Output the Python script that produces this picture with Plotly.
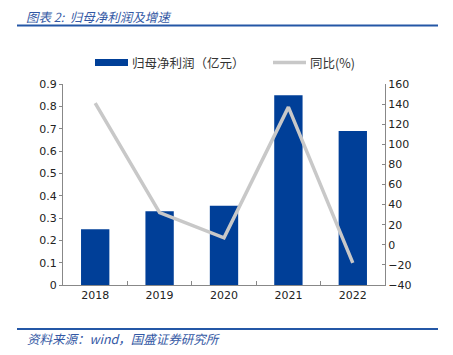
import plotly.graph_objects as go

years = ["2018", "2019", "2020", "2021", "2022"]
profit = [0.25, 0.33, 0.355, 0.85, 0.69]
yoy = [141, 32, 7, 137, -18]

left_ticks = [0, 0.1, 0.2, 0.3, 0.4, 0.5, 0.6, 0.7, 0.8, 0.9]
left_labels = ["0", "0.1", "0.2", "0.3", "0.4", "0.5", "0.6", "0.7", "0.8", "0.9"]
right_ticks = [-40, -20, 0, 20, 40, 60, 80, 100, 120, 140, 160]
bar_name = "归母净利润（亿元）"
line_name = "同比(%)"

# page offset of the figure (browser default body margin)
OFF = 8
W, H = 453 - OFF, 355 - OFF
L, R, T, B = 63 - OFF, 385 - OFF, 84 - OFF, 285 - OFF
PW, PH = R - L, B - T
BLUE = "#003F98"
GRAY = "#C8C8C8"
TITLE_BLUE = "#3358A4"
AXIS = "#888888"
FONT = "DejaVu Sans, Noto Sans CJK SC, sans-serif"
CJK = "Noto Sans CJK SC, sans-serif"


def px(x):
    return (x - OFF - L) / PW


def py(y):
    return (B - (y - OFF)) / PH


fig = go.Figure()
fig.add_trace(go.Bar(x=years, y=profit, name=bar_name,
                     marker=dict(color=BLUE, line=dict(width=0)), width=0.44,
                     yaxis="y"))
fig.add_trace(go.Scatter(x=years, y=yoy, name=line_name, mode="lines",
                         line=dict(color=GRAY, width=3.5), yaxis="y2"))

fig.update_layout(
    width=W, height=H,
    margin=dict(l=L, r=W - R, t=T, b=H - B, autoexpand=False),
    paper_bgcolor="white", plot_bgcolor="white",
    showlegend=False,
    xaxis=dict(type="category", showline=True, linecolor=AXIS, linewidth=1,
               ticks="inside", tickson="boundaries", ticklen=4, tickcolor=AXIS,
               tickfont=dict(family=FONT, size=11, color="#222222"),
               showgrid=False, zeroline=False, mirror=False),
    yaxis=dict(range=[0, 0.9], tickvals=left_ticks, ticktext=left_labels,
               showline=True, linecolor=AXIS, linewidth=1, ticks="outside",
               ticklen=3, tickcolor=AXIS, showgrid=False, zeroline=False,
               tickfont=dict(family=FONT, size=11, color="#222222")),
    yaxis2=dict(range=[-40, 160], tickvals=right_ticks, overlaying="y",
                side="right", showline=True, linecolor=AXIS, linewidth=1,
                ticks="inside", ticklen=3, tickcolor=AXIS, showgrid=False,
                zeroline=False,
                tickfont=dict(family=FONT, size=11, color="#222222")),
)

# legend (drawn as decoration)
fig.add_shape(type="rect", xref="paper", yref="paper",
              x0=px(95), x1=px(128), y0=py(66), y1=py(59),
              fillcolor=BLUE, line=dict(width=0))
fig.add_annotation(xref="paper", yref="paper", x=px(130), y=py(62.5),
                   xanchor="left", yanchor="middle", showarrow=False,
                   text=bar_name, font=dict(family=CJK, size=12.5, color="#333333"))
fig.add_shape(type="line", xref="paper", yref="paper",
              x0=px(273), x1=px(306), y0=py(62.5), y1=py(62.5),
              line=dict(color=GRAY, width=3.5))
fig.add_annotation(xref="paper", yref="paper", x=px(308), y=py(62.5),
                   xanchor="left", yanchor="middle", showarrow=False,
                   text=line_name, font=dict(family=CJK, size=12.5, color="#333333"))

# title and source decoration
fig.add_annotation(xref="paper", yref="paper", x=px(25), y=py(16),
                   xanchor="left", yanchor="middle", showarrow=False, borderpad=0,
                   text="<i>图表 2:  归母净利润及增速</i>",
                   font=dict(family=CJK, size=12.5, color=TITLE_BLUE))
fig.add_annotation(xref="paper", yref="paper", x=px(25), y=py(338),
                   xanchor="left", yanchor="middle", showarrow=False,
                   text="<i>资料来源：wind，国盛证券研究所</i>",
                   font=dict(family=CJK, size=12.5, color=TITLE_BLUE))
fig.add_shape(type="line", xref="paper", yref="paper",
              x0=px(17), x1=px(438), y0=py(25.5), y1=py(25.5),
              line=dict(color="#2457A6", width=2))
fig.add_shape(type="line", xref="paper", yref="paper",
              x0=px(17), x1=px(438), y0=py(329), y1=py(329),
              line=dict(color="#2457A6", width=2))

fig.write_html("out.html")
